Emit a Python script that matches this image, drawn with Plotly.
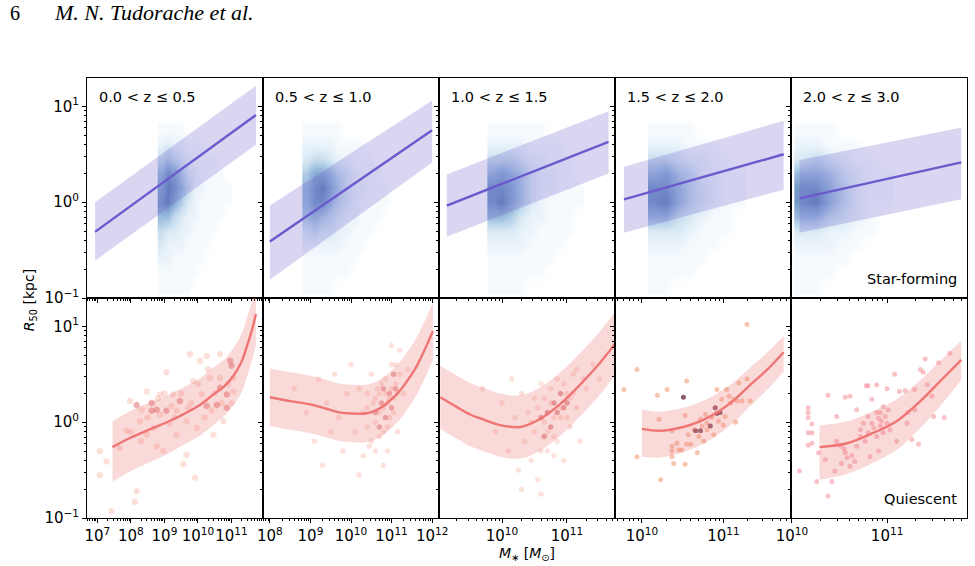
import numpy as np
import plotly.graph_objects as go
from plotly.subplots import make_subplots

# ---------------- data (log10 values) ----------------
z_labels = ["0.0 < z ≤ 0.5", "0.5 < z ≤ 1.0", "1.0 < z ≤ 1.5", "1.5 < z ≤ 2.0", "2.0 < z ≤ 3.0"]
x_ranges_log = [[6.69, 11.94], [7.83, 12.17], [9.03, 11.74], [9.67, 11.83], [9.99, 11.84]]
y_range_log = [-1.0, 1.296]

# star-forming size-mass fits (line + band), log10 M*, log10 R50
sf_fit_logm = [[6.93, 11.73], [8.0, 12.0], [9.15, 11.64], [9.78, 11.74], [10.08, 11.78]]
sf_fit_logr = [[-0.31, 0.91], [-0.41, 0.75], [-0.035, 0.63], [0.03, 0.50], [0.04, 0.415]]
sf_band_hi = [[0.0, 1.215], [-0.035, 1.06], [0.29, 0.95], [0.37, 0.85], [0.44, 0.78]]
sf_band_lo = [[-0.61, 0.60], [-0.81, 0.415], [-0.36, 0.30], [-0.32, 0.13], [-0.32, 0.03]]

# quiescent size-mass fits (curved)
q_fit_logm = [
    [7.45, 8.0, 8.67, 9.2, 9.66, 10.1, 10.46, 10.8, 11.05, 11.3, 11.45, 11.6, 11.73],
    [8.0, 8.5, 8.99, 9.4, 9.74, 10.05, 10.36, 10.6, 10.85, 11.05, 11.23, 11.4, 11.6, 11.8, 12.02],
    [9.05, 9.3, 9.51, 9.75, 9.97, 10.28, 10.58, 10.89, 11.2, 11.51, 11.74],
    [10.0, 10.22, 10.51, 10.72, 10.92, 11.13, 11.33, 11.54, 11.74],
    [10.29, 10.58, 10.86, 11.1, 11.35, 11.56, 11.78],
]
q_fit_logr = [
    [-0.26, -0.16, -0.06, 0.02, 0.10, 0.19, 0.29, 0.38, 0.48, 0.63, 0.78, 0.95, 1.13],
    [0.26, 0.22, 0.185, 0.14, 0.10, 0.09, 0.09, 0.12, 0.185, 0.26, 0.34, 0.44, 0.57, 0.74, 0.95],
    [0.26, 0.16, 0.08, 0.02, -0.03, -0.05, 0.03, 0.185, 0.39, 0.62, 0.82],
    [-0.07, -0.09, -0.05, 0.01, 0.10, 0.23, 0.39, 0.55, 0.73],
    [-0.26, -0.22, -0.11, 0.01, 0.22, 0.43, 0.65],
]
q_band_hi = [
    [0.01, 0.12, 0.22, 0.30, 0.38, 0.47, 0.57, 0.66, 0.77, 0.92, 1.08, 1.25, 1.44],
    [0.56, 0.52, 0.485, 0.44, 0.40, 0.39, 0.39, 0.42, 0.485, 0.56, 0.64, 0.74, 0.87, 1.04, 1.25],
    [0.59, 0.49, 0.41, 0.35, 0.30, 0.28, 0.36, 0.515, 0.72, 0.95, 1.15],
    [0.13, 0.11, 0.15, 0.21, 0.30, 0.42, 0.57, 0.73, 0.90],
    [-0.035, 0.01, 0.12, 0.24, 0.44, 0.64, 0.85],
]
q_band_lo = [
    [-0.62, -0.51, -0.40, -0.31, -0.22, -0.13, -0.03, 0.07, 0.17, 0.31, 0.46, 0.63, 0.81],
    [-0.04, -0.08, -0.115, -0.16, -0.20, -0.21, -0.21, -0.18, -0.115, -0.04, 0.04, 0.14, 0.27, 0.44, 0.65],
    [-0.07, -0.17, -0.25, -0.31, -0.36, -0.38, -0.30, -0.145, 0.06, 0.29, 0.49],
    [-0.36, -0.37, -0.31, -0.24, -0.14, 0.00, 0.17, 0.34, 0.53],
    [-0.60, -0.54, -0.42, -0.29, -0.06, 0.17, 0.44],
]

# star-forming density (hexbin-like), bin centres and levels 0-9 (top row = largest R)
sf_dens_logr = [0.75, 0.6, 0.45, 0.3, 0.15, 0.0, -0.15, -0.3, -0.45, -0.6, -0.75, -0.9]
sf_dens_logm = [
    [8.9, 9.1, 9.3, 9.5, 9.7, 9.9, 10.1, 10.3, 10.5, 10.7, 10.9],
    [8.9, 9.1, 9.3, 9.5, 9.7, 9.9, 10.1, 10.3, 10.5, 10.7, 10.9, 11.1],
    [9.85, 10.0, 10.15, 10.3, 10.45, 10.6, 10.75, 10.9, 11.05, 11.2],
    [10.15, 10.3, 10.45, 10.6, 10.75, 10.9, 11.05, 11.2],
    [10.1, 10.25, 10.4, 10.55, 10.7, 10.85, 11.0],
]
sf_dens_levels = [
    ["11110000000", "23221110000", "45432111100", "68753211110", "79864221111", "89753211111",
     "66432211110", "43322111100", "32221111000", "22111110000", "11111100000", "11111000000"],
    ["111110000000", "222211110000", "344322111000", "577643211100", "689753221110", "688643211110",
     "565432211100", "343322111000", "222221110000", "111111100000", "111111000000", "111100000000"],
    ["1111110000", "2222111100", "4443221110", "6765322110", "8875322111", "8975321111",
     "6653221110", "3332211110", "2222111100", "1111111000", "1111110000", "1111000000"],
    ["11110000", "22211100", "44322110", "67542211", "88643211", "89643211",
     "66432110", "33321110", "22211100", "11111000", "11110000", "11000000"],
    ["1110000", "2211100", "3432110", "6653211", "8864211", "8964211",
     "6643210", "3322110", "2221100", "1111000", "1110000", "1100000"],
]

# quiescent galaxies (log M*, log R50): faint points and dense (darker) points
q_pts_light = [
    [(7.07, -0.30), (7.07, -0.55), (7.27, -0.41), (7.42, -0.93), (7.67, -0.27), (7.87, -0.09),
     (7.97, 0.22), (8.12, -0.83), (8.17, -0.72), (8.27, 0.01), (8.47, 0.32), (8.47, -0.13),
     (8.67, -0.06), (8.77, -0.25), (8.87, 0.29), (8.97, -0.30), (9.06, 0.52), (9.16, -0.02),
     (9.26, 0.29), (9.36, -0.13), (9.56, -0.44), (9.66, -0.34), (9.76, 0.71), (9.86, 0.43),
     (9.91, -0.58), (9.96, -0.06), (10.06, 0.64), (10.26, 0.69), (10.36, 0.46), (10.41, 0.12),
     (10.46, -0.13), (10.66, 0.71), (10.66, 0.46), (10.76, 0.01), (11.06, 0.32), (11.06, 0.46),
     (10.11, 0.29), (9.71, 0.15), (9.21, 0.17), (8.32, 0.13), (8.87, 0.08), (9.36, 0.12), (9.66, 0.01),
     (8.5, 0.05), (8.8, 0.25), (9.0, 0.3), (9.3, 0.05), (9.5, 0.3), (9.8, 0.2), (10.0, 0.4),
     (10.2, 0.05), (10.5, 0.3), (10.7, 0.2), (10.9, 0.4), (11.0, 0.2), (10.3, 0.55), (8.0, -0.1),
     (8.3, -0.2)],
    [(8.6, 0.35), (8.9, 0.1), (9.1, -0.2), (9.2, 0.45), (9.4, 0.2), (9.5, -0.1), (9.6, 0.5),
     (9.7, 0.05), (9.8, -0.3), (9.9, 0.3), (10.0, 0.6), (10.1, -0.1), (10.2, 0.35), (10.3, -0.35),
     (10.4, 0.15), (10.5, -0.2), (10.5, 0.5), (10.6, 0.0), (10.7, 0.3), (10.7, -0.15), (10.8, 0.15),
     (10.85, 0.45), (10.9, -0.05), (10.95, 0.25), (11.0, 0.6), (11.05, 0.1), (11.1, 0.4),
     (11.15, -0.1), (11.2, 0.75), (11.3, 0.3), (11.4, 0.55), (10.3, 0.1), (10.6, 0.25),
     (10.4, -0.05), (10.9, -0.3), (11.0, 0.8), (9.3, -0.45), (10.2, -0.55), (10.8, -0.45),
     (10.55, 0.2), (10.65, 0.35), (10.7, 0.1), (10.75, 0.4), (10.8, -0.1), (10.9, 0.2),
     (10.95, 0.05), (11.0, 0.35), (11.05, 0.25), (11.1, 0.6), (11.15, 0.3), (10.85, 0.3),
     (10.6, -0.3), (11.2, 0.5), (10.4, 0.3), (10.45, -0.25)],
    [(9.7, 0.35), (9.9, -0.1), (10.0, 0.2), (10.1, -0.3), (10.2, 0.05), (10.25, -0.5), (10.3, 0.3),
     (10.35, -0.2), (10.4, 0.1), (10.45, -0.4), (10.5, 0.25), (10.5, -0.1), (10.55, -0.6), (10.6, 0.4),
     (10.65, 0.0), (10.7, -0.3), (10.75, 0.2), (10.8, -0.15), (10.85, 0.45), (10.9, 0.05),
     (10.95, -0.4), (11.0, 0.3), (11.05, -0.05), (11.1, 0.5), (11.15, 0.15), (11.2, -0.2),
     (11.3, 0.35), (11.4, 0.6), (11.5, 0.45), (10.3, -0.7), (10.6, -0.75), (10.15, 0.45),
     (10.55, 0.15), (10.65, 0.25), (10.7, -0.1), (10.75, 0.35), (10.8, 0.05), (10.85, -0.2),
     (10.9, 0.15), (10.95, 0.4), (11.0, 0.05), (11.05, 0.25), (11.1, 0.3), (11.15, 0.55),
     (10.6, -0.3), (10.8, -0.35), (11.25, 0.45), (10.45, 0.0)],
    [(9.78, 0.34), (9.94, 0.55), (10.19, 0.28), (10.21, 0.03), (10.31, 0.34), (10.37, -0.09),
     (10.37, -0.25), (10.37, -0.30), (10.37, -0.36), (10.39, -0.43), (10.43, -0.22), (10.45, -0.29),
     (10.49, -0.29), (10.53, 0.07), (10.53, -0.44), (10.55, -0.23), (10.57, -0.13), (10.60, -0.23),
     (10.64, -0.08), (10.68, -0.32), (10.70, -0.15), (10.72, 0.03), (10.74, -0.04), (10.76, -0.20),
     (10.78, 0.08), (10.80, -0.01), (10.80, -0.08), (10.86, 0.05), (10.88, -0.13), (10.94, 0.01),
     (10.98, 0.24), (11.0, -0.03), (11.02, 0.06), (11.04, 0.34), (11.07, 0.27), (11.09, 0.20),
     (11.13, 0.24), (11.15, 0.0), (11.17, 0.22), (11.19, 0.41), (11.23, 0.22), (11.29, 0.45),
     (11.29, 1.02), (11.33, 0.22), (10.92, 0.34), (10.23, -0.60), (10.55, 0.43), (9.94, -0.36)],
    [(10.08, -0.51), (10.17, 0.15), (10.17, 0.10), (10.17, 0.05), (10.17, -0.11), (10.17, -0.24),
     (10.21, -0.02), (10.21, -0.22), (10.21, -0.11), (10.26, -0.62), (10.28, -0.32), (10.35, -0.39),
     (10.38, 0.28), (10.38, -0.77), (10.42, -0.62), (10.45, -0.51), (10.47, 0.06), (10.47, -0.20),
     (10.51, -0.25), (10.52, -0.43), (10.56, 0.26), (10.56, -0.32), (10.58, -0.37), (10.61, 0.27),
     (10.61, -0.46), (10.68, 0.13), (10.68, -0.25), (10.72, -0.08), (10.75, -0.01), (10.77, -0.20),
     (10.78, 0.38), (10.80, 0.38), (10.80, -0.11), (10.82, -0.36), (10.84, 0.24), (10.86, -0.06),
     (10.89, 0.39), (10.89, -0.15), (10.91, -0.30), (10.93, 0.10), (10.94, 0.01), (10.96, -0.11),
     (10.98, 0.06), (11.0, 0.35), (11.01, 0.13), (11.03, -0.08), (11.08, 0.50), (11.10, -0.20),
     (11.13, 0.32), (11.19, 0.33), (11.21, -0.01), (11.22, 0.10), (11.26, -0.18), (11.29, 0.34),
     (11.29, 0.13), (11.33, -0.23), (11.35, 0.55), (11.38, 0.52), (11.40, 0.66), (11.42, 0.39),
     (11.47, 0.27), (11.49, 0.06), (11.54, 0.62), (11.60, 0.05), (11.66, 0.72), (10.80, 0.06),
     (10.84, -0.01), (10.89, 0.10), (10.93, -0.04), (10.96, 0.16), (11.0, -0.01), (10.72, -0.15),
     (10.91, 0.04), (10.55, -0.28), (10.63, -0.35), (10.66, -0.41)],
]
q_pts_dark = [
    [(8.17, 0.18), (8.62, 0.20), (8.62, 0.12), (8.77, 0.13), (9.06, 0.12), (9.46, 0.22), (10.66, 0.36),
     (10.86, 0.29), (10.96, 0.64), (11.0, 0.59), (10.86, 0.15), (10.56, 0.18), (10.26, 0.17)],
    [(10.6, 0.1), (10.75, 0.2), (10.85, 0.05), (10.95, 0.3), (11.0, 0.15), (11.1, 0.35), (10.8, 0.35),
     (10.7, -0.05), (11.05, 0.5)],
    [(10.6, 0.05), (10.7, 0.1), (10.75, -0.05), (10.8, 0.2), (10.85, 0.1), (10.9, 0.3), (10.95, 0.15),
     (11.0, 0.2), (10.65, -0.15)],
    [(10.51, 0.26), (10.66, -0.09), (10.72, -0.09), (10.84, -0.04), (10.90, 0.15), (10.92, 0.09),
     (10.96, 0.10)],
    [],
]

# ---------------- styles ----------------
SF_LINE = "rgb(106,90,205)"
SF_BAND = "rgba(106,90,205,0.25)"
Q_LINE = "rgb(239,117,117)"
Q_BAND = "rgba(240,128,128,0.30)"
q_light_col = ["rgba(244,140,120,0.28)", "rgba(244,140,120,0.26)", "rgba(244,140,120,0.26)",
               "rgba(244,150,110,0.55)", "rgba(240,120,130,0.45)"]
q_dark_col = ["rgba(215,75,75,0.45)", "rgba(215,75,75,0.45)", "rgba(200,65,65,0.50)",
              "rgba(105,35,60,0.75)", "rgba(105,35,60,0.75)"]
q_symbol = ["hexagon", "hexagon", "hexagon", "circle", "circle"]
q_size = [7, 6, 6, 5, 5]

blues = [[0.0, "rgba(255,255,255,0)"], [0.1, "rgba(220,235,247,0.22)"],
         [0.35, "rgba(165,203,230,0.45)"], [0.65, "rgba(95,148,202,0.62)"],
         [1.0, "rgba(52,98,168,0.78)"]]

FONT = "DejaVu Sans"

fig = make_subplots(rows=2, cols=5, horizontal_spacing=0, vertical_spacing=0)


def p10(a):
    return [10 ** v for v in a]


for c in range(5):
    col = c + 1
    # --- star-forming density ---
    lm = sf_dens_logm[c]
    dm = lm[1] - lm[0]
    dr = abs(sf_dens_logr[0] - sf_dens_logr[1])
    xe = [10 ** (v - dm / 2) for v in lm] + [10 ** (lm[-1] + dm / 2)]
    lr_up = sf_dens_logr[::-1]
    ye = [10 ** (v - dr / 2) for v in lr_up] + [10 ** (lr_up[-1] + dr / 2)]
    zz = [[int(ch) for ch in row] for row in sf_dens_levels[c]][::-1]
    fig.add_trace(go.Heatmap(x=xe, y=ye, z=zz, zmin=0, zmax=9, colorscale=blues,
                             showscale=False, zsmooth="best", hoverinfo="skip"), row=1, col=col)
    # band
    fig.add_trace(go.Scatter(x=p10(sf_fit_logm[c]), y=p10(sf_band_lo[c]), mode="lines",
                             line=dict(width=0), hoverinfo="skip"), row=1, col=col)
    fig.add_trace(go.Scatter(x=p10(sf_fit_logm[c]), y=p10(sf_band_hi[c]), mode="lines",
                             line=dict(width=0), fill="tonexty", fillcolor=SF_BAND,
                             hoverinfo="skip"), row=1, col=col)
    fig.add_trace(go.Scatter(x=p10(sf_fit_logm[c]), y=p10(sf_fit_logr[c]), mode="lines",
                             line=dict(color=SF_LINE, width=2.4)), row=1, col=col)

    # --- quiescent ---
    lp = q_pts_light[c]
    fig.add_trace(go.Scatter(x=[10 ** p[0] for p in lp], y=[10 ** p[1] for p in lp], mode="markers",
                             marker=dict(symbol=q_symbol[c], size=q_size[c], color=q_light_col[c],
                                         line=dict(width=0)), hoverinfo="skip"), row=2, col=col)
    dp = q_pts_dark[c]
    if dp:
        fig.add_trace(go.Scatter(x=[10 ** p[0] for p in dp], y=[10 ** p[1] for p in dp],
                                 mode="markers",
                                 marker=dict(symbol=q_symbol[c], size=q_size[c], color=q_dark_col[c],
                                             line=dict(width=0)), hoverinfo="skip"), row=2, col=col)
    fig.add_trace(go.Scatter(x=p10(q_fit_logm[c]), y=p10(q_band_lo[c]), mode="lines",
                             line=dict(width=0, shape="spline"), hoverinfo="skip"), row=2, col=col)
    fig.add_trace(go.Scatter(x=p10(q_fit_logm[c]), y=p10(q_band_hi[c]), mode="lines",
                             line=dict(width=0, shape="spline"), fill="tonexty", fillcolor=Q_BAND,
                             hoverinfo="skip"), row=2, col=col)
    fig.add_trace(go.Scatter(x=p10(q_fit_logm[c]), y=p10(q_fit_logr[c]), mode="lines",
                             line=dict(color=Q_LINE, width=2.4, shape="spline")), row=2, col=col)


def minor_vals(lo, hi):
    out = []
    for d in range(int(np.floor(lo)) - 1, int(np.ceil(hi)) + 1):
        for k in range(2, 10):
            v = k * 10.0 ** d
            if lo <= np.log10(v) <= hi:
                out.append(v)
    return out


def major_ticks(lo, hi):
    vals, txt = [], []
    for d in range(int(np.ceil(lo - 1e-9)), int(np.floor(hi + 1e-9)) + 1):
        vals.append(10.0 ** d)
        txt.append("10<sup>" + str(d).replace("-", "−") + "</sup>")
    return vals, txt


axis_common = dict(type="log", showline=True, linecolor="black", linewidth=1, mirror=True,
                   ticks="outside", ticklen=4, tickwidth=1, tickcolor="black", showgrid=False,
                   zeroline=False, automargin=False, tickmode="array", tickangle=0,
                   tickfont=dict(family=FONT, size=15, color="black"))

for r in (1, 2):
    for c in range(5):
        xr = x_ranges_log[c]
        xv, xt = major_ticks(*xr)
        fig.update_xaxes(range=xr, showticklabels=(r == 2), tickvals=xv, ticktext=xt,
                         minor=dict(ticks="outside", ticklen=2, tickwidth=0.8, tickcolor="black",
                                    tickvals=minor_vals(*xr)),
                         row=r, col=c + 1, **axis_common)
        yv, yt = major_ticks(*y_range_log)
        fig.update_yaxes(range=y_range_log, showticklabels=(c == 0), tickvals=yv, ticktext=yt,
                         minor=dict(ticks="outside", ticklen=2, tickwidth=0.8, tickcolor="black",
                                    tickvals=minor_vals(*y_range_log)),
                         row=r, col=c + 1, **axis_common)

annotations = []
for c in range(5):
    xref = "x domain" if c == 0 else f"x{c + 1} domain"
    yref = "y domain" if c == 0 else f"y{c + 1} domain"
    annotations.append(dict(text=z_labels[c], xref=xref, yref=yref, x=0.055, y=0.914,
                            xanchor="left", yanchor="middle", showarrow=False,
                            font=dict(family=FONT, size=14.5, color="black")))
annotations.append(dict(text="Star-forming", xref="x5 domain", yref="y5 domain", x=0.955, y=0.086,
                        xanchor="right", yanchor="middle", showarrow=False,
                        font=dict(family=FONT, size=14.5, color="black")))
annotations.append(dict(text="Quiescent", xref="x10 domain", yref="y10 domain", x=0.955, y=0.086,
                        xanchor="right", yanchor="middle", showarrow=False,
                        font=dict(family=FONT, size=14.5, color="black")))
annotations.append(dict(text="<i>M</i><sub>∗</sub> [<i>M</i><sub>⊙</sub>]", xref="paper", yref="paper",
                        x=0.5, y=-0.082, xanchor="center", yanchor="middle", showarrow=False,
                        font=dict(family=FONT, size=14, color="black")))
annotations.append(dict(text="<i>R</i><sub>50</sub> [kpc]", xref="paper", yref="paper",
                        x=-0.0648, y=0.495, xanchor="center", yanchor="middle", textangle=-90,
                        showarrow=False, font=dict(family=FONT, size=14, color="black")))
annotations.append(dict(text="6", xref="paper", yref="paper", x=-0.0898, y=1.148,
                        xanchor="left", yanchor="middle", showarrow=False,
                        font=dict(family="Liberation Serif", size=20, color="black")))
annotations.append(dict(text="<i>M. N. Tudorache et al.</i>", xref="paper", yref="paper",
                        x=-0.0398, y=1.148, xanchor="left", yanchor="middle", showarrow=False,
                        font=dict(family="Liberation Serif", size=22, color="black")))

fig.update_layout(width=975, height=566, margin=dict(l=87, r=8, t=78, b=48),
                  plot_bgcolor="white", paper_bgcolor="white", showlegend=False,
                  annotations=annotations, font=dict(family=FONT))

fig.write_html("out.html")
